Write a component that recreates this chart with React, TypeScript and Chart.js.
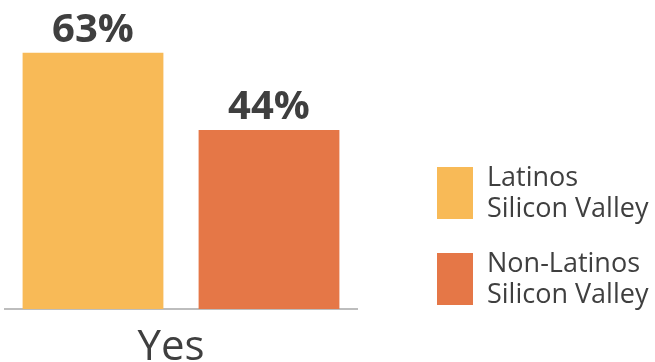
import React, { useEffect, useRef } from "react";
import { Chart, registerables } from "chart.js";

Chart.register(...registerables);

const categories = ["Yes"];
const seriesLabels = [
  ["Latinos", "Silicon Valley"],
  ["Non-Latinos", "Silicon Valley"],
];
const latinosValues = [63];
const nonLatinosValues = [44];
const seriesColors = ["#F8BA57", "#E57747"];
const yMax = 76;

const TEXT = "#3F3F3F";
const FONT = "'Open Sans', sans-serif";

const valueLabelPlugin = {
  id: "valueLabels",
  afterDatasetsDraw(chart: any) {
    const ctx = chart.ctx;
    ctx.save();
    ctx.font = `bold 40px ${FONT}`;
    ctx.fillStyle = TEXT;
    ctx.textAlign = "center";
    ctx.textBaseline = "alphabetic";
    chart.data.datasets.forEach((ds: any, i: number) => {
      const meta = chart.getDatasetMeta(i);
      meta.data.forEach((bar: any, j: number) => {
        ctx.fillText(`${ds.data[j]}%`, bar.x, bar.y - 11);
      });
    });
    ctx.restore();
  },
};

const sideLegendPlugin = {
  id: "sideLegend",
  afterDraw(chart: any) {
    const ctx = chart.ctx;
    ctx.save();
    const boxX = 437;
    const boxW = 36;
    const boxH = 52;
    const firstTop = 167;
    const step = 86;
    ctx.font = `27px ${FONT}`;
    ctx.textAlign = "left";
    ctx.textBaseline = "alphabetic";
    chart.data.datasets.forEach((ds: any, i: number) => {
      const top = firstTop + i * step;
      ctx.fillStyle = ds.backgroundColor;
      ctx.fillRect(boxX, top, boxW, boxH);
      ctx.fillStyle = TEXT;
      const lines: string[] = ds.label;
      lines.forEach((line, k) => {
        ctx.fillText(line, 487, top + 19 + k * 30.5);
      });
    });
    ctx.restore();
  },
};

export default function App() {
  const ref = useRef<HTMLCanvasElement | null>(null);
  useEffect(() => {
    document.body.style.margin = "0";
    const canvas = ref.current!;
    const chart = new Chart(canvas, {
      type: "bar",
      data: {
        labels: categories,
        datasets: [
          {
            label: seriesLabels[0] as any,
            data: latinosValues,
            backgroundColor: seriesColors[0],
            categoryPercentage: 1,
            barPercentage: 0.8,
          },
          {
            label: seriesLabels[1] as any,
            data: nonLatinosValues,
            backgroundColor: seriesColors[1],
            categoryPercentage: 1,
            barPercentage: 0.8,
          },
        ],
      },
      options: {
        responsive: false,
        animation: false,
        devicePixelRatio: 1,
        layout: { padding: { left: 5, right: 298, top: 0, bottom: 0 } },
        plugins: {
          legend: { display: false },
          tooltip: { enabled: false },
        },
        scales: {
          x: {
            grid: { display: false, drawTicks: false },
            border: { display: true, color: "#BDBDBD", width: 2 },
            ticks: {
              color: TEXT,
              padding: 18,
              labelOffset: -10,
              font: { family: FONT, size: 42, lineHeight: 1 },
            },
            afterFit: (scale: any) => {
              scale.height = 53;
            },
          },
          y: {
            display: false,
            min: 0,
            max: yMax,
          },
        },
      },
      plugins: [valueLabelPlugin, sideLegendPlugin],
    });
    return () => chart.destroy();
  }, []);
  return (
    <div style={{ position: "absolute", left: 0, top: 0, width: 655, height: 362, background: "#fff" }}>
      <canvas ref={ref} width={655} height={362} style={{ width: 655, height: 362 }} />
    </div>
  );
}
